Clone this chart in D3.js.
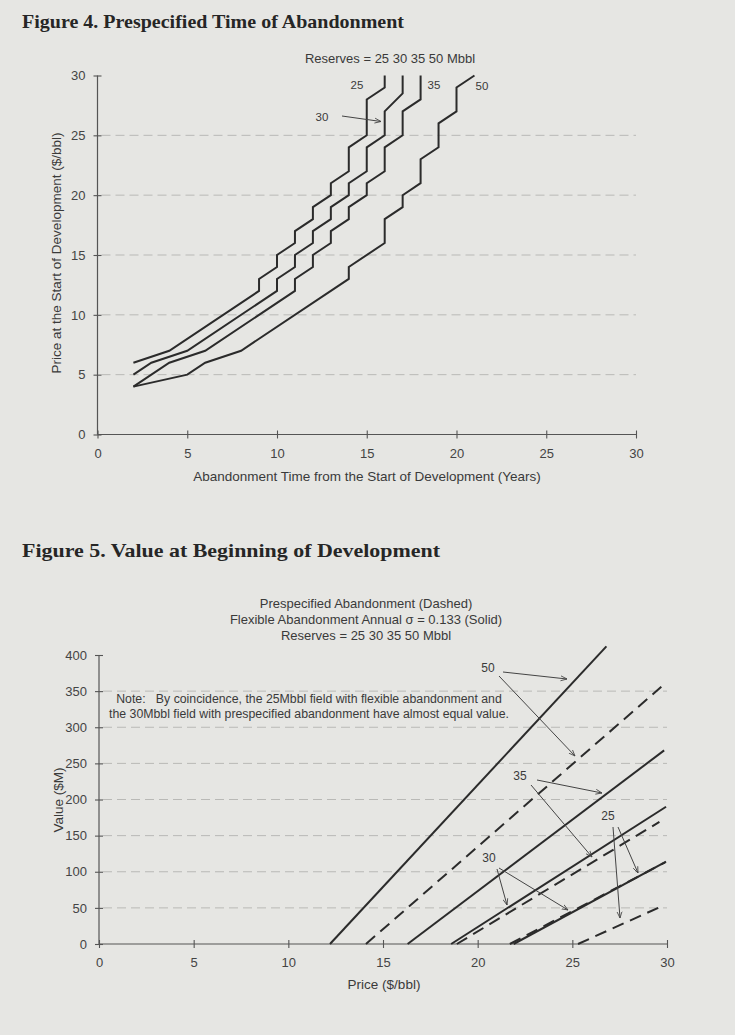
<!DOCTYPE html>
<html><head><meta charset="utf-8">
<script src="https://cdn.jsdelivr.net/npm/d3@7"></script>
<style>
html,body{margin:0;padding:0;background:#e6e6e3;}
svg{display:block;}
</style></head>
<body>
<svg id="chart" width="735" height="1035"></svg>
<script>
// ---------- Figure 4 data: abandonment year vs price, by reserves ----------
const fig4Series = ["25", "30", "35", "50"];
const fig4Years25 = [2, 4, 9, 9, 10, 10, 11, 11, 12, 12, 13, 13, 14, 14, 15, 15, 16, 16];
const fig4Price25 = [6, 7, 12, 13, 14, 15, 16, 17, 18, 19, 20, 21, 22, 24, 25, 28, 29, 30];
const fig4Years30 = [2, 3, 5, 10, 10, 11, 11, 12, 12, 13, 13, 14, 14, 15, 15, 16, 16, 17, 17];
const fig4Price30 = [5, 6, 7, 12, 13, 14, 15, 16, 17, 18, 19, 20, 21, 22, 24, 25, 27, 28.5, 30];
const fig4Years35 = [2, 4, 6, 11, 11, 12, 12, 13, 13, 14, 14, 15, 15, 16, 16, 17, 17, 18, 18];
const fig4Price35 = [4, 6, 7, 12, 13, 14, 15, 16, 17, 18, 19, 20, 21, 22, 24, 25, 27, 28, 30];
const fig4Years50 = [2, 5, 6, 8, 14, 14, 16, 16, 17, 17, 18, 18, 19, 19, 20, 20, 21];
const fig4Price50 = [4, 5, 6, 7, 13, 14, 16, 18, 19, 20, 21, 23, 24, 26, 27, 29, 30];
const fig4XTicks = [0, 5, 10, 15, 20, 25, 30];
const fig4YTicks = [0, 5, 10, 15, 20, 25, 30];
const fig4Grid = [5, 10, 15, 20, 25];

// ---------- Figure 5 data: value vs price (line endpoints) ----------
const fig5Names   = ["50 flex", "50 pre", "35 flex", "35 pre", "30 flex", "30 pre", "25 flex", "25 pre"];
const fig5Dashed  = [false, true, false, true, false, true, false, true];
const fig5PriceStart = [12.2, 14.1, 16.3, 18.9, 18.6, 21.7, 21.9, 25.3];
const fig5ValueStart = [0, 0, 0, 0, 0, 0, 0, 0];
const fig5PriceEnd   = [26.8, 29.7, 29.85, 29.6, 29.95, 29.9, 29.95, 29.7];
const fig5ValueEnd   = [412, 356, 268, 169, 190, 113, 114, 52];
const fig5XTicks = [0, 5, 10, 15, 20, 25, 30];
const fig5YTicks = [0, 50, 100, 150, 200, 250, 300, 350, 400];
const fig5Grid = [50, 100, 150, 200, 250, 300, 350];

const svg = d3.select("#chart");
const INK = "#2b2b2b";
const TXT = "#3a3a3a";
const SANS = "'Liberation Sans', Arial, sans-serif";
const SERIF = "'Liberation Serif', 'Times New Roman', serif";

// arrow marker
const defs = svg.append("defs");
defs.append("marker").attr("id","arr").attr("viewBox","0 0 10 10")
  .attr("refX",9).attr("refY",5).attr("markerWidth",7).attr("markerHeight",7)
  .attr("orient","auto-start-reverse")
  .append("path").attr("d","M0,1.5 L9,5 L0,8.5").attr("fill","none")
  .attr("stroke","#444").attr("stroke-width",1.2);

function styleAxis(g, crossing, horizontal){
  g.select(".domain").attr("stroke","#555").attr("stroke-width",1.2);
  g.selectAll(".tick line").attr("stroke","#555").attr("stroke-width",1.1);
  if(horizontal) g.selectAll(".tick line").attr("y1",-crossing).attr("y2",crossing);
  else g.selectAll(".tick line").attr("x1",-crossing).attr("x2",crossing);
  g.selectAll(".tick text").attr("fill","#444").attr("font-family",SANS).attr("font-size",13);
}

// ================= FIGURE 4 =================
svg.append("text").attr("x",22).attr("y",28)
  .attr("font-family",SERIF).attr("font-weight","bold").attr("font-size",19)
  .attr("fill","#262626").attr("textLength",382).attr("lengthAdjust","spacingAndGlyphs")
  .text("Figure 4. Prespecified Time of Abandonment");

const x4 = d3.scaleLinear().domain([0,30]).range([97.5,636]);
const y4 = d3.scaleLinear().domain([0,30]).range([434.5,75.5]);

const g4 = svg.append("g");
g4.selectAll("line.grid").data(fig4Grid).join("line")
  .attr("x1",x4(0)+4).attr("x2",x4(30)).attr("y1",d=>y4(d)).attr("y2",d=>y4(d))
  .attr("stroke","#b9b9b6").attr("stroke-width",1).attr("stroke-dasharray","9,5");

const ax4x = g4.append("g").attr("transform",`translate(0,${y4(0)})`)
  .call(d3.axisBottom(x4).tickValues(fig4XTicks).tickSize(4).tickPadding(10).tickFormat(d3.format("d")));
styleAxis(ax4x,4,true);
ax4x.select(".domain").attr("d",`M${x4(0)},0H${x4(30)}`);
const ax4y = g4.append("g").attr("transform",`translate(${x4(0)},0)`)
  .call(d3.axisLeft(y4).tickValues(fig4YTicks).tickSize(4).tickPadding(8).tickFormat(d3.format("d")));
styleAxis(ax4y,4,false);
ax4y.select(".domain").attr("d",`M0,${y4(30)}V${y4(0)}`);

const fig4Data = [
  d3.zip(fig4Years25, fig4Price25),
  d3.zip(fig4Years30, fig4Price30),
  d3.zip(fig4Years35, fig4Price35),
  d3.zip(fig4Years50, fig4Price50)
];
const line4 = d3.line().x(d=>x4(d[0])).y(d=>y4(d[1]));
g4.selectAll("path.s").data(fig4Data).join("path")
  .attr("d",line4).attr("fill","none").attr("stroke",INK).attr("stroke-width",2)
  .attr("stroke-linejoin","miter");

g4.append("text").attr("x",390).attr("y",63).attr("text-anchor","middle")
  .attr("font-family",SANS).attr("font-size",13).attr("fill",TXT)
  .text("Reserves = 25 30 35 50 Mbbl");
const lab4 = [["25",357,89],["35",434,89],["50",482,90],["30",322,121]];
g4.selectAll("text.lab").data(lab4).join("text")
  .attr("x",d=>d[1]).attr("y",d=>d[2]).attr("text-anchor","middle")
  .attr("font-family",SANS).attr("font-size",11.5).attr("fill",TXT).text(d=>d[0]);
g4.append("line").attr("x1",342).attr("y1",116).attr("x2",381).attr("y2",121.5)
  .attr("stroke","#444").attr("stroke-width",1).attr("marker-end","url(#arr)");

g4.append("text").attr("x",367).attr("y",481).attr("text-anchor","middle")
  .attr("font-family",SANS).attr("font-size",13.5).attr("fill",TXT)
  .text("Abandonment Time from the Start of Development (Years)");
g4.append("text").attr("transform",`translate(61,253) rotate(-90)`).attr("text-anchor","middle")
  .attr("font-family",SANS).attr("font-size",13.5).attr("fill",TXT)
  .text("Price at the Start of Development ($/bbl)");

// ================= FIGURE 5 =================
svg.append("text").attr("x",22).attr("y",557)
  .attr("font-family",SERIF).attr("font-weight","bold").attr("font-size",19)
  .attr("fill","#262626").attr("textLength",418).attr("lengthAdjust","spacingAndGlyphs")
  .text("Figure 5. Value at Beginning of Development");

const x5 = d3.scaleLinear().domain([0,30]).range([99,667]);
const y5 = d3.scaleLinear().domain([0,400]).range([944,655]);
const g5 = svg.append("g");

const subs = ["Prespecified Abandonment (Dashed)", "Flexible Abandonment Annual \u03c3 = 0.133 (Solid)", "Reserves = 25 30 35 50 Mbbl"];
g5.selectAll("text.sub").data(subs).join("text")
  .attr("x",366).attr("y",(d,i)=>608+i*16).attr("text-anchor","middle")
  .attr("font-family",SANS).attr("font-size",13).attr("fill",TXT).text(d=>d);

g5.selectAll("line.grid").data(fig5Grid).join("line")
  .attr("x1",x5(0)+4).attr("x2",x5(30)).attr("y1",d=>y5(d)).attr("y2",d=>y5(d))
  .attr("stroke","#b9b9b6").attr("stroke-width",1).attr("stroke-dasharray","9,5");

const ax5x = g5.append("g").attr("transform",`translate(0,${y5(0)})`)
  .call(d3.axisBottom(x5).tickValues(fig5XTicks).tickSize(4).tickPadding(10).tickFormat(d3.format("d")));
styleAxis(ax5x,4,true);
ax5x.select(".domain").attr("d",`M${x5(0)},0H${x5(30)}`);
const ax5y = g5.append("g").attr("transform",`translate(${x5(0)},0)`)
  .call(d3.axisLeft(y5).tickValues(fig5YTicks).tickSize(4).tickPadding(8).tickFormat(d3.format("d")));
styleAxis(ax5y,4,false);
ax5y.select(".domain").attr("d",`M0,${y5(400)}V${y5(0)}`);

const fig5Data = fig5Names.map((n,i)=>({name:n, dashed:fig5Dashed[i],
  pts:[[fig5PriceStart[i],fig5ValueStart[i]],[fig5PriceEnd[i],fig5ValueEnd[i]]]}));
const line5 = d3.line().x(d=>x5(d[0])).y(d=>y5(d[1]));
g5.selectAll("path.s").data(fig5Data).join("path")
  .attr("d",d=>line5(d.pts)).attr("fill","none").attr("stroke",INK).attr("stroke-width",2)
  .attr("stroke-dasharray",d=>d.dashed?"12,7":null);

g5.selectAll("text.note").data(["Note:   By coincidence, the 25Mbbl field with flexible abandonment and",
  "the 30Mbbl field with prespecified abandonment have almost equal value."]).join("text")
  .attr("x",309).attr("y",(d,i)=>703+i*15).attr("text-anchor","middle")
  .style("white-space","pre")
  .attr("font-family",SANS).attr("font-size",12.3).attr("fill",TXT).text(d=>d);

const lab5 = [["50",488,672],["35",520,780],["30",489,862],["25",608,820]];
g5.selectAll("text.lab").data(lab5).join("text")
  .attr("x",d=>d[1]).attr("y",d=>d[2]).attr("text-anchor","middle")
  .attr("font-family",SANS).attr("font-size",12).attr("fill",TXT).text(d=>d[0]);
const arrows5 = [
  [503,672,567,679],[499,676,575,756],
  [537,780,602,793],[531,785,592,857],
  [497,869,507,905],[499,868,568,910],
  [618,827,638,873],[613,827,620,918]
];
g5.selectAll("line.arr").data(arrows5).join("line")
  .attr("x1",d=>d[0]).attr("y1",d=>d[1]).attr("x2",d=>d[2]).attr("y2",d=>d[3])
  .attr("stroke","#444").attr("stroke-width",1).attr("marker-end","url(#arr)");

g5.append("text").attr("x",384).attr("y",989).attr("text-anchor","middle")
  .attr("font-family",SANS).attr("font-size",13.5).attr("fill",TXT).text("Price ($/bbl)");
g5.append("text").attr("transform",`translate(63,800) rotate(-90)`).attr("text-anchor","middle")
  .attr("font-family",SANS).attr("font-size",13.5).attr("fill",TXT).text("Value ($M)");
</script>
</body></html>
